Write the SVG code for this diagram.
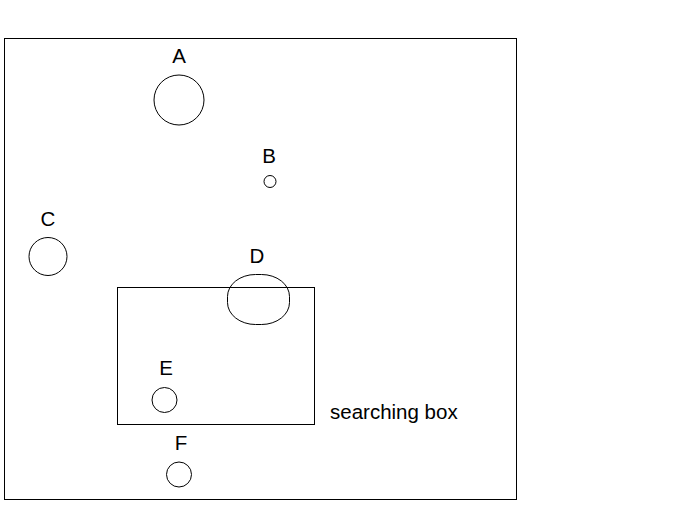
<svg xmlns="http://www.w3.org/2000/svg" width="674" height="528" viewBox="0 0 674 528">
<style>
.s{fill:none;stroke:#000;stroke-width:1}
.t{font-family:"Liberation Sans",Arial,sans-serif;font-size:20.5px;fill:#000;text-anchor:middle}
</style>
<rect width="674" height="528" fill="#fff"/>
<rect class="s" x="4.5" y="38.5" width="512" height="461"/>
<g id="box"><rect class="s" x="117.5" y="287.5" width="197" height="137"/><text class="t" x="330" y="419" style="text-anchor:start">searching box</text></g>
<g id="A"><circle class="s" cx="179" cy="100" r="25"/><text class="t" x="179" y="63">A</text></g>
<g id="B"><circle class="s" cx="270" cy="181.5" r="6"/><text class="t" x="269" y="163">B</text></g>
<g id="C"><circle class="s" cx="48" cy="256.5" r="19"/><text class="t" x="48" y="226">C</text></g>
<g id="D"><rect class="s" x="227.5" y="274.5" width="62" height="50" rx="28" ry="22"/><text class="t" x="257" y="263">D</text></g>
<g id="E"><circle class="s" cx="164.5" cy="400" r="12.5"/><text class="t" x="166" y="375">E</text></g>
<g id="F"><circle class="s" cx="179" cy="474.5" r="12.5"/><text class="t" x="181" y="450">F</text></g>
<g id="connectors"></g>
</svg>
